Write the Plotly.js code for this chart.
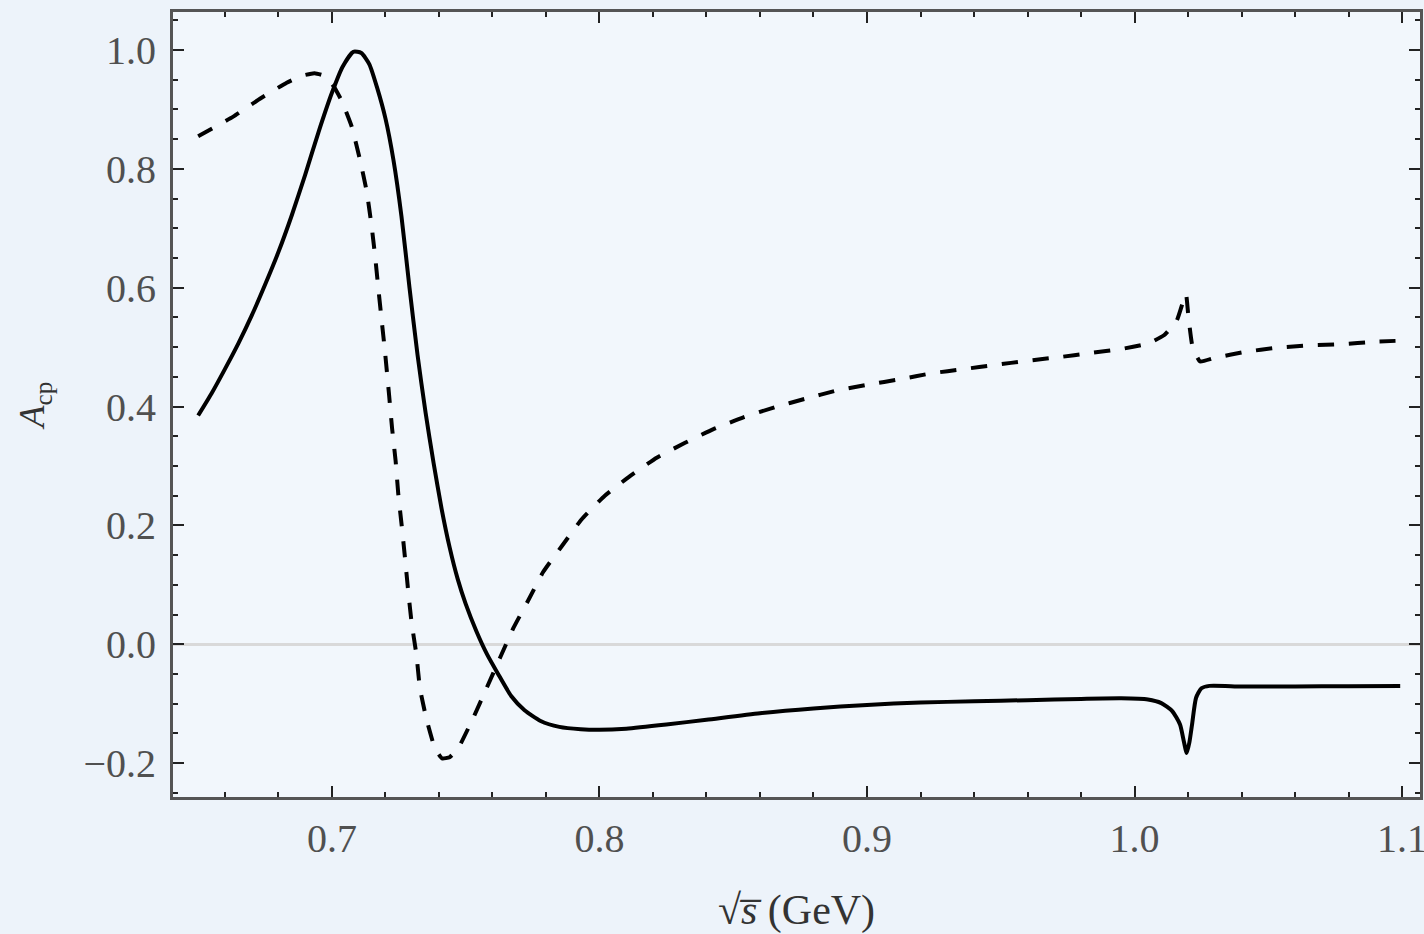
<!DOCTYPE html>
<html>
<head>
<meta charset="utf-8">
<script src="https://cdn.plot.ly/plotly-3.0.1.min.js"></script>
<style>
html,body{margin:0;padding:0;background:#edf3fa;}
#chart{width:1424px;height:934px;}
</style>
</head>
<body>
<div id="chart"></div>
<script>
// Solid curve
const solidX = [0.650,0.655,0.660,0.665,0.670,0.675,0.680,0.685,0.690,0.695,0.700,0.704,0.708,0.711,0.714,0.717,0.720,0.723,0.726,0.729,0.732,0.735,0.738,0.741,0.744,0.747,0.750,0.754,0.758,0.762,0.767,0.772,0.778,0.785,0.793,0.800,0.810,0.825,0.840,0.860,0.880,0.900,0.920,0.940,0.960,0.980,0.995,1.005,1.010,1.014,1.017,1.0185,1.0195,1.0205,1.0215,1.023,1.025,1.028,1.040,1.060,1.080,1.0993];
const solidY = [0.385,0.422,0.463,0.506,0.553,0.605,0.660,0.722,0.790,0.862,0.928,0.972,0.997,0.995,0.976,0.935,0.885,0.815,0.720,0.600,0.487,0.390,0.305,0.228,0.163,0.110,0.068,0.022,-0.017,-0.049,-0.087,-0.111,-0.129,-0.139,-0.143,-0.144,-0.142,-0.135,-0.127,-0.116,-0.108,-0.102,-0.098,-0.096,-0.094,-0.092,-0.091,-0.093,-0.099,-0.112,-0.135,-0.165,-0.183,-0.165,-0.135,-0.090,-0.074,-0.070,-0.071,-0.071,-0.0705,-0.070];
// Dashed curve
const dashX = [0.650,0.6631,0.6731,0.6831,0.689,0.6935,0.6975,0.7005,0.7036,0.7074,0.7105,0.713,0.7148,0.7161,0.7173,0.7186,0.7198,0.7214,0.7225,0.7238,0.7248,0.7261,0.7273,0.7285,0.7298,0.7316,0.7329,0.7354,0.7385,0.7412,0.7440,0.7472,0.7528,0.7578,0.7628,0.7678,0.7734,0.779,0.7859,0.7933,0.802,0.8114,0.8214,0.832,0.8426,0.8538,0.8656,0.8768,0.8887,0.9005,0.9123,0.9242,0.936,0.9479,0.9597,0.9715,0.9834,0.9952,1.005,1.011,1.0158,1.0192,1.0201,1.0217,1.0245,1.030,1.0413,1.0531,1.0656,1.0774,1.0893,1.100];
const dashY = [0.855,0.888,0.918,0.945,0.957,0.961,0.956,0.940,0.915,0.871,0.815,0.762,0.705,0.655,0.601,0.545,0.494,0.418,0.363,0.309,0.253,0.199,0.146,0.090,0.036,-0.018,-0.074,-0.127,-0.175,-0.192,-0.190,-0.175,-0.124,-0.074,-0.023,0.027,0.074,0.122,0.165,0.210,0.250,0.283,0.314,0.339,0.362,0.382,0.399,0.413,0.427,0.437,0.446,0.456,0.463,0.470,0.477,0.483,0.490,0.497,0.506,0.520,0.545,0.590,0.553,0.500,0.476,0.482,0.492,0.499,0.503,0.505,0.509,0.511];
const xTickVals = [0.7,0.8,0.9,1.0,1.1];
const yTickVals = [-0.2,0.0,0.2,0.4,0.6,0.8,1.0];

const traces = [
  {x: solidX, y: solidY, type:'scatter', mode:'lines',
   line:{color:'#000', width:4, shape:'spline', smoothing:0.6}, hoverinfo:'skip'},
  {x: dashX, y: dashY, type:'scatter', mode:'lines',
   line:{color:'#000', width:4, dash:'16px,15px', shape:'spline', smoothing:0.4}, hoverinfo:'skip'}
];

const serif = '"Liberation Serif", "Times New Roman", serif';
const tickFont = {family:serif, size:40, color:'#505050'};
const layout = {
  width:1424, height:934,
  paper_bgcolor:'#edf3fa', plot_bgcolor:'#f2f7fc',
  margin:{l:173, r:4, t:12, b:137},
  showlegend:false,
  xaxis:{
    range:[0.6406,1.1067], tickvals:xTickVals, ticktext:xTickVals.map(v=>v.toFixed(1)),
    ticks:'inside', ticklen:11, tickwidth:2, tickcolor:'#222',
    minor:{dtick:0.02, tick0:0, ticks:'inside', ticklen:5, tickwidth:2, tickcolor:'#222', showgrid:false},
    showline:true, linecolor:'#555', linewidth:3, mirror:'allticks',
    showgrid:false, zeroline:false, tickfont:tickFont, ticklabelstandoff:4,
    ticklabeloverflow:'allow',
    title:{text:'√<i>s̅</i> (GeV)', font:{family:serif, size:42, color:'#333'}, standoff:46}
  },
  yaxis:{
    range:[-0.257,1.064], tickvals:yTickVals, ticktext:yTickVals.map(v=>(v<0?'−':'')+Math.abs(v).toFixed(1)),
    ticks:'inside', ticklen:11, tickwidth:2, tickcolor:'#222',
    minor:{dtick:0.05, tick0:0, ticks:'inside', ticklen:5, tickwidth:2, tickcolor:'#222', showgrid:false},
    showline:true, linecolor:'#555', linewidth:3, mirror:'allticks',
    showgrid:false, zeroline:true, zerolinecolor:'#d9d9d9', zerolinewidth:3,
    tickfont:tickFont, ticklabelstandoff:6,
    title:{text:'<i>A</i><sub>cp</sub>', font:{family:serif, size:36, color:'#333'}, standoff:28}
  }
};
Plotly.newPlot('chart', traces, layout, {displayModeBar:false, staticPlot:true});
</script>
</body>
</html>
